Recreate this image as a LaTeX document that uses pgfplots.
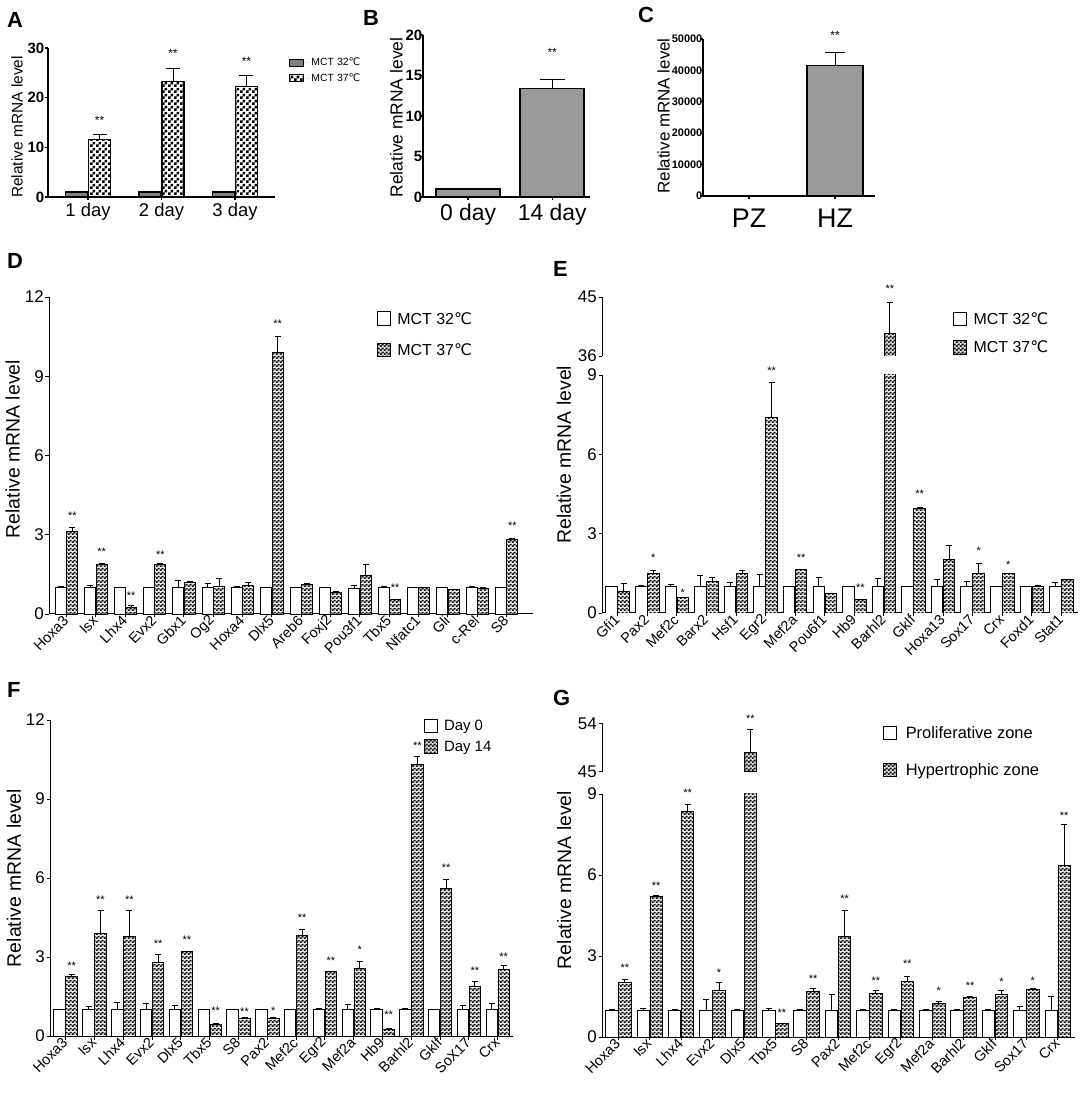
\documentclass[border=0pt]{standalone}
\usepackage{fontspec}
\setmainfont{Liberation Sans}
\newfontfamily\dv{DejaVu Sans}
\newcommand{\degC}{{\dv ℃}}
\usepackage{pgfplots}
\usepackage{pgfplotstable}
\pgfplotsset{compat=1.18}
\usetikzlibrary{patterns}
\newcommand{\fs}[1]{\fontsize{#1}{#1}\selectfont}
\pgfdeclarepatterninherentlycolored{checkerD}{\pgfpointorigin}{\pgfqpoint{4bp}{4bp}}{\pgfqpoint{4bp}{4bp}}{%
  \pgfsetfillcolor{black!18}%
  \pgfpathrectangle{\pgfpointorigin}{\pgfqpoint{4bp}{4bp}}%
  \pgfusepath{fill}%
  \pgfsetfillcolor{black}%
  \pgfpathrectangle{\pgfpointorigin}{\pgfqpoint{2bp}{2bp}}%
  \pgfpathrectangle{\pgfqpoint{2bp}{2bp}}{\pgfqpoint{2bp}{2bp}}%
  \pgfusepath{fill}}
\pgfdeclarepatternformonly{checkerA}{\pgfpointorigin}{\pgfqpoint{6bp}{6bp}}{\pgfqpoint{6bp}{6bp}}{%
  \pgfpathrectangle{\pgfpointorigin}{\pgfqpoint{3bp}{3bp}}%
  \pgfpathrectangle{\pgfqpoint{3bp}{3bp}}{\pgfqpoint{3bp}{3bp}}%
  \pgfusepath{fill}}

\pgfplotsset{
  legext/.initial=18bp,
  base/.style={scale only axis, ybar=0pt, axis x line*=bottom, axis y line*=left,
    axis line style={-, line width=1bp, black},
    tick align=outside, major tick length=3.5bp,
    tick style={black, line width=0.9bp},
    /pgf/number format/assume math mode=true,
    /pgf/number format/1000 sep={},
    scaled y ticks=false, legend cell align=left,
    yticklabel style={font=\fs{17}, inner sep=1.5bp},
    legend image code/.code={\draw[##1, line width=0.9bp, draw=black] (0bp,-6.5bp) rectangle (13bp,7bp);
      \path[draw=none] (0bp,0bp) -- (\pgfkeysvalueof{/pgfplots/legext},0bp);}},
  starax/.style={scale only axis, ybar=0pt, hide axis, clip=false},
  rotlabels/.style={xticklabel style={rotate=45, anchor=east, font=\fs{14.5}, inner sep=1bp}},
  errs/.style={error bars/.cd, y dir=plus, y explicit,
    error bar style={line width=0.9bp, black},
    error mark options={rotate=90, line width=0.9bp, black, mark size=#1}},
  stars/.style={draw=none, fill=none, forget plot,
    nodes near coords=\pgfplotspointmeta, point meta=explicit symbolic,
    every node near coord/.append style={font=\fs{#1}, inner sep=0pt, yshift=-6bp, black}},
  chk/.style={pattern=checkerD},
}

% ---------- data ----------
\pgfplotstableread{
x v e
0 1.0 0.05
1 1.0 0.05
2 1.0 0.05
}\Aa
\pgfplotstableread{
x v e
0 11.6 0.9
1 23.2 2.7
2 22.2 2.2
}\Ab
\pgfplotstableread{
x y s
0 15.8 **
1 29.2 **
2 27.7 **
}\Ast
\pgfplotstableread{
x v e
0 1.0 0.05
1 13.4 1.1
}\Bb
\pgfplotstableread{
x v e
0 1 0
1 41500 4300
}\Cc

\pgfplotstableread{
x v e
0 1.00 0.03
1 1.00 0.08
2 1.00 0.02
3 1.00 0.02
4 1.00 0.27
5 1.00 0.14
6 1.00 0.03
7 1.00 0.02
8 1.00 0.02
9 1.00 0.01
10 0.98 0.10
11 1.00 0.05
12 1.00 0.02
13 1.00 0.02
14 1.00 0.03
15 1.00 0.02
}\Da
\pgfplotstableread{
x v e
0 3.12 0.15
1 1.88 0.04
2 0.25 0.06
3 1.87 0.03
4 1.20 0.03
5 1.05 0.28
6 1.09 0.09
7 9.90 0.60
8 1.13 0.02
9 0.82 0.02
10 1.47 0.40
11 0.54 0.02
12 1.00 0.02
13 0.92 0.02
14 0.98 0.02
15 2.82 0.03
}\Db
\pgfplotstableread{
x y s
0 3.8 **
1 2.42 **
2 0.75 **
3 2.32 **
7 11.07 **
11 1.07 **
15 3.4 **
}\Dst

\pgfplotstableread{
x v e
0 1.00 0.02
1 1.00 0.03
2 1.00 0.08
3 1.00 0.43
4 1.00 0.14
5 1.00 0.45
6 1.00 0.02
7 1.00 0.36
8 1.00 0.02
9 1.00 0.30
10 1.00 0.02
11 1.00 0.26
12 1.00 0.20
13 1.00 0.01
14 1.00 0.02
15 1.00 0.14
}\Ea
\pgfplotstableread{
x v e
0 0.80 0.32
1 1.49 0.12
2 0.58 0.02
3 1.18 0.18
4 1.49 0.12
5 7.41 1.31
6 1.63 0.03
7 0.74 0.01
8 0.52 0.01
9 39.4 4.8
10 3.95 0.05
11 2.04 0.50
12 1.49 0.37
13 1.49 0.02
14 1.02 0.02
15 1.26 0.02
}\Eb
\pgfplotstableread{
x y s
1 2.17 *
2 0.85 *
5 9.24 **
6 2.17 **
8 1.05 **
10 4.58 **
12 2.42 *
13 1.92 *
}\Est
\pgfplotstableread{
x y s
9 46.5 **
}\Estu

\pgfplotstableread{
x v e
0 1.00 0.02
1 1.00 0.13
2 1.00 0.28
3 1.00 0.22
4 1.00 0.15
5 1.00 0.01
6 1.00 0.01
7 1.00 0.01
8 1.00 0.01
9 1.00 0.03
10 1.00 0.19
11 1.00 0.03
12 1.00 0.05
13 1.00 0.01
14 1.00 0.15
15 1.00 0.22
}\Fa
\pgfplotstableread{
x v e
0 2.26 0.07
1 3.90 0.85
2 3.78 0.97
3 2.80 0.30
4 3.20 0.02
5 0.45 0.01
6 0.68 0.02
7 0.67 0.03
8 3.80 0.25
9 2.44 0.01
10 2.56 0.26
11 0.26 0.01
12 10.3 0.30
13 5.60 0.35
14 1.90 0.16
15 2.51 0.18
}\Fb
\pgfplotstableread{
x y s
0 2.76 **
1 5.25 **
2 5.25 **
3 3.6 **
4 3.72 **
5 1.03 **
6 1.0 **
7 1.03 *
8 4.55 **
9 2.95 **
10 3.35 *
11 0.87 **
12 11.1 **
13 6.45 **
14 2.57 **
15 3.08 **
}\Fst

\pgfplotstableread{
x v e
0 1.00 0.02
1 1.00 0.05
2 1.00 0.01
3 1.00 0.40
4 1.00 0.01
5 1.00 0.04
6 1.00 0.01
7 1.00 0.58
8 1.00 0.01
9 1.00 0.01
10 1.00 0.02
11 1.00 0.01
12 1.00 0.01
13 1.00 0.12
14 1.00 0.52
}\Ga
\pgfplotstableread{
x v e
0 2.01 0.13
1 5.20 0.05
2 8.34 0.29
3 1.74 0.27
4 48.5 4.4
5 0.49 0.01
6 1.67 0.12
7 3.74 0.96
8 1.60 0.13
9 2.05 0.21
10 1.25 0.08
11 1.48 0.01
12 1.56 0.18
13 1.77 0.01
14 6.37 1.52
}\Gb
\pgfplotstableread{
x y s
0 2.63 **
1 5.69 **
2 9.12 **
3 2.44 *
5 0.96 **
6 2.22 **
7 5.2 **
8 2.17 **
9 2.8 **
10 1.8 *
11 1.98 **
12 2.11 *
13 2.17 *
14 8.28 **
}\Gst
\pgfplotstableread{
x y s
4 55.2 **
}\Gstu

\begin{document}
\begin{tikzpicture}
\useasboundingbox (0,0) rectangle (1084bp,1095bp);
\fill[white] (0,0) rectangle (1084bp,1095bp);

% panel letters
\node[anchor=north west, inner sep=0pt, font=\bfseries\fs{22}] at (7bp,1083bp) {A};
\node[anchor=north west, inner sep=0pt, font=\bfseries\fs{22}] at (363bp,1085bp) {B};
\node[anchor=north west, inner sep=0pt, font=\bfseries\fs{22}] at (638bp,1088bp) {C};
\node[anchor=north west, inner sep=0pt, font=\bfseries\fs{22}] at (7bp,842bp) {D};
\node[anchor=north west, inner sep=0pt, font=\bfseries\fs{22}] at (553bp,834bp) {E};
\node[anchor=north west, inner sep=0pt, font=\bfseries\fs{22}] at (7bp,413bp) {F};
\node[anchor=north west, inner sep=0pt, font=\bfseries\fs{22}] at (553bp,405bp) {G};

% ---------- A ----------
\begin{axis}[base, clip=false, at={(48bp,898bp)}, anchor=south west, width=227bp, height=149bp,
  xmin=-0.545, xmax=2.545, ymin=0, ymax=30, ytick={0,10,20,30},
  xtick={0,1,2}, xticklabels={1 day,2 day,3 day},
  xticklabel style={font=\fs{18.5}},
  yticklabel style={font=\bfseries\fs{15}, inner sep=0.5bp},
  major tick length=3bp,
  axis line style={line width=1.3bp}, tick style={line width=1.2bp},
  ylabel={Relative mRNA level}, ylabel style={at={(axis description cs:-0.136,0.47)}, anchor=center, font=\fs{15.5}},
  legend style={draw=none, fill=none, at={(1.048,0.96)}, anchor=north west, font=\fs{10.5}, row sep=2bp},
  legend image code/.code={\draw[#1, line width=0.8bp, draw=black] (0bp,-3.5bp) rectangle (14bp,3.5bp); \path[draw=none] (0bp,0bp) -- (20bp,0bp);}]
\addplot[bar width=22bp, bar shift=-11.5bp, fill=black!50, draw=black, line width=1.2bp, errs=5bp] table[x=x,y=v,y error=e]{\Aa};
\addlegendentry{MCT 32\degC}
\addplot[bar width=22bp, bar shift=11.5bp, pattern=checkerA, draw=black, line width=1.2bp, errs=7bp] table[x=x,y=v,y error=e]{\Ab};
\addlegendentry{MCT 37\degC}
\addplot[stars={12}, bar width=22bp, bar shift=11.5bp] table[x=x,y=y,meta=s]{\Ast};
\end{axis}

% ---------- B ----------
\begin{axis}[base, clip=false, at={(423bp,898bp)}, anchor=south west, width=167bp, height=162bp,
  xmin=-0.536, xmax=1.45, ymin=0, ymax=20, ytick={0,5,10,15,20},
  xtick={0,1}, xticklabels={0 day,14 day},
  xticklabel style={font=\fs{23}},
  yticklabel style={font=\bfseries\fs{15}, inner sep=0pt, xshift=2.5bp},
  major tick length=3bp,
  axis line style={line width=1.3bp}, tick style={line width=1.2bp},
  ylabel={Relative mRNA level}, ylabel style={at={(axis description cs:-0.16,0.49)}, anchor=center, font=\fs{17.5}}]
\addplot[bar width=64bp, bar shift=0bp, fill=black!40, draw=black, line width=1.4bp, errs=12.5bp] table[x=x,y=v,y error=e]{\Bb};
\addplot[stars={12}, bar width=64bp, bar shift=0bp] coordinates {(1,18.1) [**]};
\end{axis}

% ---------- C ----------
\begin{axis}[base, clip=false, at={(703bp,899bp)}, anchor=south west, width=172bp, height=157bp,
  xmin=-0.535, xmax=1.465, ymin=0, ymax=50000, ytick={0,10000,20000,30000,40000,50000},
  xtick={0,1}, xticklabels={PZ,HZ},
  xticklabel style={font=\fs{27}, yshift=-6bp},
  yticklabel style={font=\bfseries\fs{11}, inner sep=0pt, xshift=2.5bp},
  major tick length=3bp,
  axis line style={line width=1.3bp}, tick style={line width=1.2bp},
  ylabel={Relative mRNA level}, ylabel style={at={(axis description cs:-0.23,0.51)}, anchor=center, font=\fs{17}}]
\addplot[bar width=56bp, bar shift=0bp, fill=black!40, draw=black, line width=1.4bp, errs=10bp] table[x=x,y=v,y error=e]{\Cc};
\addplot[stars={12}, bar width=56bp, bar shift=0bp] coordinates {(1,51800) [**]};
\end{axis}

% ---------- D ----------
\begin{axis}[base, clip=false, rotlabels, at={(49bp,481bp)}, anchor=south west, width=484bp, height=317bp,
  xmin=-0.6, xmax=15.9, ymin=0, ymax=12, ytick={0,3,6,9,12},
  xtick={0,...,15}, xticklabels={Hoxa3,Isx,Lhx4,Evx2,Gbx1,Og2,Hoxa4,Dlx5,Areb6,Foxj2,Pou3f1,Tbx5,Nfatc1,Gli,c-Rel,S8},
  ylabel={Relative mRNA level}, ylabel style={at={(axis description cs:-0.075,0.52)}, anchor=center, font=\fs{19.5}},
  legend style={draw=none, fill=none, at={(0.671,0.965)}, anchor=north west, font=\fs{16}, row sep=14bp}]
\addplot[bar width=11bp, bar shift=-5.75bp, fill=white, draw=black, line width=0.9bp, errs=3bp] table[x=x,y=v,y error=e]{\Da};
\addlegendentry{MCT 32\degC}
\addplot[bar width=11bp, bar shift=5.75bp, chk, draw=black, line width=0.9bp, errs=3bp] table[x=x,y=v,y error=e]{\Db};
\addlegendentry{MCT 37\degC}
\addplot[stars={11}, bar width=11bp, bar shift=5.75bp] table[x=x,y=y,meta=s]{\Dst};
\end{axis}

% ---------- E (lower) ----------
\begin{axis}[base, rotlabels, at={(602bp,482bp)}, anchor=south west, width=476bp, height=238bp,
  xmin=-0.53, xmax=15.56, ymin=0, ymax=9, ytick={0,3,6,9},
  xtick={0,...,15}, xticklabels={Gfi1,Pax2,Mef2c,Barx2,Hsf1,Egr2,Mef2a,Pou6f1,Hb9,Barhl2,Gklf,Hoxa13,Sox17,Crx,Foxd1,Stat1},
  ylabel={Relative mRNA level}, ylabel style={at={(axis description cs:-0.08,0.665)}, anchor=center, font=\fs{19.5}},
  legend style={draw=none, fill=none, at={(0.731,1.279)}, anchor=north west, font=\fs{16}, row sep=11bp}]
\addplot[bar width=11.5bp, bar shift=-6bp, fill=white, draw=black, line width=0.9bp, errs=3bp] table[x=x,y=v,y error=e]{\Ea};
\addlegendentry{MCT 32\degC}
\addplot[bar width=11.5bp, bar shift=6bp, chk, draw=black, line width=0.9bp, errs=3bp] table[x=x,y=v,y error=e]{\Eb};
\addlegendentry{MCT 37\degC}
\end{axis}
\begin{axis}[starax, at={(602bp,482bp)}, anchor=south west, width=476bp, height=238bp,
  xmin=-0.53, xmax=15.56, ymin=0, ymax=9]
\addplot[stars={11}, bar width=11.5bp, bar shift=6bp] table[x=x,y=y,meta=s]{\Est};
\end{axis}
% ---------- E (upper) ----------
\begin{axis}[base, at={(602bp,739bp)}, anchor=south west, width=476bp, height=59bp,
  xmin=-0.53, xmax=15.56, ymin=36, ymax=45, ytick={36,45}, axis x line=none]
\addplot[bar width=11.5bp, bar shift=6bp, chk, draw=black, line width=0.9bp, errs=3bp] coordinates {(9,39.4) +- (0,4.8)};
\end{axis}
\begin{axis}[starax, at={(602bp,739bp)}, anchor=south west, width=476bp, height=59bp,
  xmin=-0.53, xmax=15.56, ymin=36, ymax=45]
\addplot[stars={11}, bar width=11.5bp, bar shift=6bp] table[x=x,y=y,meta=s]{\Estu};
\end{axis}

% ---------- F ----------
\begin{axis}[base, clip=false, rotlabels, at={(50bp,59bp)}, anchor=south west, width=463bp, height=316bp,
  xmin=-0.545, xmax=15.53, ymin=0, ymax=12, ytick={0,3,6,9,12},
  xtick={0,...,15}, xticklabels={Hoxa3,Isx,Lhx4,Evx2,Dlx5,Tbx5,S8,Pax2,Mef2c,Egr2,Mef2a,Hb9,Barhl2,Gklf,SoX17,Crx},
  ylabel={Relative mRNA level}, ylabel style={at={(axis description cs:-0.078,0.5)}, anchor=center, font=\fs{19.5}},
  legend style={draw=none, fill=none, at={(0.80,1.013)}, anchor=north west, font=\fs{15}, row sep=5bp}]
\addplot[bar width=11.5bp, bar shift=-6bp, fill=white, draw=black, line width=0.9bp, errs=3bp] table[x=x,y=v,y error=e]{\Fa};
\addlegendentry{Day 0}
\addplot[bar width=11.5bp, bar shift=6bp, chk, draw=black, line width=0.9bp, errs=3bp] table[x=x,y=v,y error=e]{\Fb};
\addlegendentry{Day 14}
\addplot[stars={11}, bar width=11.5bp, bar shift=6bp] table[x=x,y=y,meta=s]{\Fst};
\end{axis}

% ---------- G (lower) ----------
\begin{axis}[base, rotlabels, at={(602bp,58bp)}, anchor=south west, width=473bp, height=243bp,
  xmin=-0.52, xmax=14.55, ymin=0, ymax=9, ytick={0,3,6,9},
  xtick={0,...,14}, xticklabels={Hoxa3,Isx,Lhx4,Evx2,Dlx5,Tbx5,S8,Pax2,Mef2c,Egr2,Mef2a,Barhl2,Gklf,Sox17,Crx},
  ylabel={Relative mRNA level}, ylabel style={at={(axis description cs:-0.08,0.646)}, anchor=center, font=\fs{19.5}},
  legext=20bp,
  legend style={draw=none, fill=none, at={(0.588,1.296)}, anchor=north west, font=\fs{16.5}, row sep=20bp}]
\addplot[bar width=12.5bp, bar shift=-6.5bp, fill=white, draw=black, line width=0.9bp, errs=3bp] table[x=x,y=v,y error=e]{\Ga};
\addlegendentry{Proliferative zone}
\addplot[bar width=12.5bp, bar shift=6.5bp, chk, draw=black, line width=0.9bp, errs=3bp] table[x=x,y=v,y error=e]{\Gb};
\addlegendentry{Hypertrophic zone}
\end{axis}
\begin{axis}[starax, at={(602bp,58bp)}, anchor=south west, width=473bp, height=243bp,
  xmin=-0.52, xmax=14.55, ymin=0, ymax=9]
\addplot[stars={11}, bar width=12.5bp, bar shift=6.5bp] table[x=x,y=y,meta=s]{\Gst};
\end{axis}
% ---------- G (upper) ----------
\begin{axis}[base, at={(602bp,323.3bp)}, anchor=south west, width=473bp, height=48.4bp,
  xmin=-0.52, xmax=14.55, ymin=45, ymax=54, ytick={45,54}, axis x line=none]
\addplot[bar width=12.5bp, bar shift=6.5bp, chk, draw=black, line width=0.9bp, errs=3bp] coordinates {(4,48.5) +- (0,4.4)};
\end{axis}
\begin{axis}[starax, at={(602bp,323.3bp)}, anchor=south west, width=473bp, height=48.4bp,
  xmin=-0.52, xmax=14.55, ymin=45, ymax=54]
\addplot[stars={11}, bar width=12.5bp, bar shift=6.5bp] table[x=x,y=y,meta=s]{\Gstu};
\end{axis}
\end{tikzpicture}
\end{document}
